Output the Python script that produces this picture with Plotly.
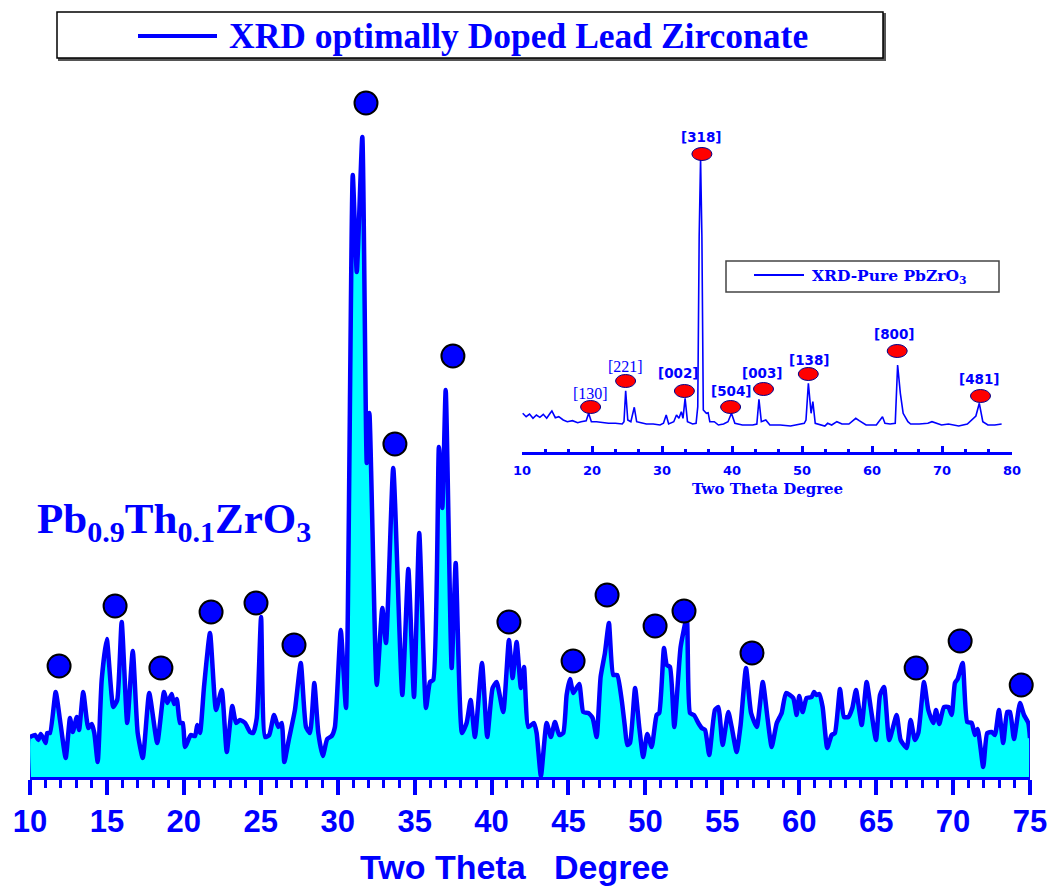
import plotly.graph_objects as go

# ---------------- data ----------------
two_theta = [10.0,10.33,10.54,10.70,10.86,11.02,11.12,11.30,11.67,11.95,
             12.32,12.60,12.78,13.04,13.19,13.46,13.79,14.01,14.18,14.40,
             14.66,14.99,15.41,15.67,15.96,16.32,16.68,17.00,17.33,17.75,
             18.27,18.71,18.92,19.21,19.36,19.54,19.75,19.93,20.08,20.45,
             20.73,20.87,21.05,21.31,21.70,22.09,22.46,22.79,23.15,23.39,
             23.65,23.98,24.30,24.51,24.74,25.02,25.28,25.55,25.86,26.14,
             26.36,26.53,26.82,27.22,27.60,27.94,28.20,28.48,28.74,29.03,
             29.32,29.61,29.82,30.20,30.54,30.98,31.24,31.60,31.89,32.06,
             32.54,32.90,33.14,33.61,34.20,34.59,34.96,35.30,35.74,36.00,
             36.21,36.58,36.80,37.02,37.41,37.67,38.08,38.38,38.64,38.92,
             39.38,39.72,40.07,40.33,40.76,41.13,41.37,41.63,41.91,42.11,
             42.39,42.76,42.93,43.21,43.58,43.86,44.12,44.40,44.66,44.88,
             45.10,45.31,45.70,45.96,46.29,46.57,46.83,47.09,47.37,47.63,
             47.91,48.17,48.46,48.67,48.82,49.00,49.33,49.60,49.86,50.12,
             50.41,50.73,50.90,51.21,51.39,51.60,51.88,52.29,52.69,52.90,
             53.16,53.44,53.66,53.88,54.15,54.52,54.74,55.02,55.39,55.61,
             55.93,56.19,56.54,56.87,57.24,57.63,57.93,58.21,58.54,58.86,
             59.14,59.61,59.83,60.00,60.22,60.48,60.81,60.96,61.13,61.30,
             61.52,61.82,62.11,62.32,62.65,62.91,63.19,63.45,63.69,64.06,
             64.38,64.64,64.99,65.25,65.51,65.85,66.33,66.59,66.98,67.24,
             67.52,67.74,68.11,68.39,68.71,68.89,69.10,69.41,69.69,69.91,
             70.12,70.30,70.62,70.92,71.21,71.42,71.60,71.96,72.22,72.51,
             72.72,72.98,73.26,73.52,73.70,73.96,74.35,74.61,74.89,75.00]

intensity = [40,42,37,43,39,34,44,44,85,57,
             19,59,45,60,47,85,49,53,44,15,
             97,138,70,77,155,54,126,44,19,84,
             34,85,74,83,73,78,54,54,30,42,
             41,52,44,90,144,67,87,25,71,54,
             57,54,45,44,59,160,40,42,62,50,
             54,15,37,67,114,50,44,94,44,21,
             38,41,50,147,69,602,505,640,314,364,
             92,169,134,309,82,208,80,244,69,95,
             97,330,269,387,109,214,44,54,77,40,
             114,40,89,95,65,137,99,135,89,110,
             50,54,44,1,54,40,55,42,44,82,
             98,84,93,65,64,59,40,100,124,154,
             102,102,77,50,32,34,89,50,20,43,
             30,62,64,129,112,110,50,130,159,64,
             62,54,49,47,22,67,70,32,65,50,
             25,52,109,64,50,95,60,30,54,64,
             84,79,62,81,65,79,80,85,82,83,
             70,29,42,44,88,60,60,69,87,52,
             95,70,37,82,90,37,62,37,29,57,
             37,44,95,67,54,67,53,70,70,62,
             94,98,114,55,54,42,48,10,44,45,
             42,67,34,65,65,38,74,62,54,39]

peak_theta = [11.89,15.53,18.51,21.77,24.69,27.16,31.84,33.72,37.49,
              41.13,45.30,47.51,50.63,52.51,56.93,67.60,70.46,74.43]
peak_int = [111,171,109,165,174,132,674,333,421,
            155,116,182,151,166,124,109,136,92]

# inset : pure PbZrO3
pure_theta = [10.1,10.59,11.08,11.57,12.06,12.55,13.04,13.53,14.02,14.27,
              14.76,15.25,15.89,16.47,17.21,17.95,18.44,19.17,19.52,19.91,
              20.64,21.38,22.36,23.34,24.32,24.57,24.81,25.11,25.55,26.04,
              26.38,27.02,27.76,28.74,29.72,30.21,30.60,30.95,31.68,32.07,
              32.42,32.76,33.00,33.30,33.64,34.38,34.87,35.11,35.31,35.51,
              35.70,35.90,36.34,36.59,36.83,37.47,38.06,38.79,39.43,39.92,
              40.41,41.49,42.96,43.55,43.85,44.19,44.83,45.41,46.89,48.36,
              49.58,50.32,50.57,50.91,51.30,51.55,51.89,53.26,53.66,54.24,
              54.98,55.71,56.70,57.68,58.17,59.15,60.62,61.50,61.85,62.59,
              63.32,63.66,64.05,64.45,65.13,65.52,66.75,67.98,68.57,69.94,
              70.92,72.39,73.62,74.45,74.84,75.33,75.83,76.56,77.54,78.52]
pure_int = [38.7,35.3,38,33.7,37,34.7,37.7,33.7,38.7,41,
            34.3,35.3,32,30.3,31.3,29.3,30.3,31.3,38.7,30.3,
            30.3,29.3,28.7,28.7,28,30.3,61.3,32,30.3,44.7,
            30.3,29.3,28,28,27,28.7,37,28,30.3,37,
            33.7,40.3,33.7,53.7,30.3,28,28.7,45.3,215.3,293.7,
            215.3,42,38.7,39.3,30.3,30.3,27,28,30.3,38.7,
            28.7,27,27,28,52.7,30.3,32,27,27,26,
            28,28.7,32,68.7,38.7,50.3,28.7,26,28.7,27,
            30.3,28,28,33.7,31.3,27,27,35.3,28.7,28,
            28.7,87,58.7,38.7,30.3,28,28,28.7,30.3,27,
            28,26,28,33.7,36,48.7,30.3,27,27,28]

hkl_labels = ['[130]','[221]','[002]','[318]','[504]','[003]','[138]','[800]','[481]']
hkl_theta = [19.8,24.8,33.2,35.7,39.8,44.5,50.9,63.6,75.5]
hkl_int = [45,71,61,298,45,63,78,101,56]
hkl_label_theta = [19.8,24.8,32.3,35.7,39.9,44.4,51.1,63.2,75.3]
hkl_label_int = [59,86,79,315,61,79,92,118,73]
hkl_label_serif = [True,True,False,False,False,False,False,False,False]

main_ticks = list(range(10, 80, 5))
inset_ticks = list(range(10, 90, 10))

# ---------------- layout helpers ----------------
W, H = 1048, 889
def px(x):
    return x / W
def py(y):
    return 1 - y / H

BLUE = '#0000FF'
SANS = 'Liberation Sans, Arial, sans-serif'
SERIF = 'Liberation Serif, Times New Roman, serif'

fig = go.Figure()

# filled area (closed polygon down to baseline)
fig.add_trace(go.Scatter(
    x=[two_theta[0]] + two_theta + [two_theta[-1]],
    y=[0] + intensity + [0],
    mode='lines', fill='toself', fillcolor='#00FFFF',
    line=dict(color=BLUE, width=2, shape='spline', smoothing=0.5),
    hoverinfo='skip', showlegend=False, xaxis='x', yaxis='y'))
# main curve
fig.add_trace(go.Scatter(
    x=two_theta, y=intensity, mode='lines',
    line=dict(color=BLUE, width=4.5, shape='spline', smoothing=0.5),
    showlegend=False, xaxis='x', yaxis='y'))
# peak markers
fig.add_trace(go.Scatter(
    x=peak_theta, y=peak_int, mode='markers',
    marker=dict(size=23, color=BLUE, line=dict(color='black', width=2)),
    showlegend=False, cliponaxis=False, xaxis='x', yaxis='y'))

# inset curve
fig.add_trace(go.Scatter(
    x=pure_theta, y=pure_int, mode='lines',
    line=dict(color=BLUE, width=1.6), showlegend=False,
    xaxis='x2', yaxis='y2'))

shapes = []
annotations = []

# title legend box
shapes.append(dict(type='rect', xref='paper', yref='paper',
                   x0=px(59), x1=px(885), y0=py(60), y1=py(14),
                   line=dict(color='#555555', width=2), fillcolor='#555555', layer='above'))
shapes.append(dict(type='rect', xref='paper', yref='paper',
                   x0=px(57), x1=px(883), y0=py(58), y1=py(12),
                   line=dict(color='black', width=1.5), fillcolor='white', layer='above'))
shapes.append(dict(type='line', xref='paper', yref='paper',
                   x0=px(138), x1=px(217), y0=py(36), y1=py(36),
                   line=dict(color=BLUE, width=4), layer='above'))
annotations.append(dict(xref='paper', yref='paper', x=px(227), y=py(36),
                        xanchor='left', yanchor='middle', showarrow=False,
                        text='XRD optimally Doped Lead Zirconate',
                        font=dict(family=SERIF, size=35.5, color=BLUE, weight=700)))

# composition label
annotations.append(dict(xref='paper', yref='paper', x=px(35), y=py(522),
                        xanchor='left', yanchor='middle', showarrow=False,
                        text='Pb<sub>0.9</sub>Th<sub>0.1</sub>ZrO<sub>3</sub>',
                        font=dict(family=SERIF, size=43, color=BLUE, weight=700)))

# main x axis title
annotations.append(dict(xref='paper', yref='paper', x=px(514), y=py(867),
                        xanchor='center', yanchor='middle', showarrow=False,
                        text='Two Theta\u00a0\u00a0\u00a0Degree',
                        font=dict(family=SANS, size=34, color=BLUE, weight=700)))

# inset legend
shapes.append(dict(type='rect', xref='paper', yref='paper',
                   x0=px(726), x1=px(999), y0=py(292), y1=py(261),
                   line=dict(color='#444444', width=1.5), fillcolor='white', layer='below'))
shapes.append(dict(type='line', xref='paper', yref='paper',
                   x0=px(754), x1=px(804), y0=py(275), y1=py(275),
                   line=dict(color=BLUE, width=2), layer='above'))
annotations.append(dict(xref='paper', yref='paper', x=px(810), y=py(276),
                        xanchor='left', yanchor='middle', showarrow=False,
                        text='XRD-Pure PbZrO<sub>3</sub>',
                        font=dict(family='DejaVu Serif', size=15.5, color=BLUE, weight=700)))
# inset axis title
annotations.append(dict(xref='paper', yref='paper', x=px(767), y=py(489),
                        xanchor='center', yanchor='middle', showarrow=False,
                        text='Two Theta Degree',
                        font=dict(family='DejaVu Serif', size=15, color=BLUE, weight=700)))

# inset hkl ellipses and labels
for th, it in zip(hkl_theta, hkl_int):
    shapes.append(dict(type='circle', xref='x2', yref='y2',
                       xsizemode='pixel', ysizemode='pixel',
                       xanchor=th, yanchor=it, x0=-10, x1=10, y0=-6.5, y1=6.5,
                       fillcolor='#FF0000', line=dict(color='#00008B', width=1),
                       layer='above'))
for lab, th, it, serif in zip(hkl_labels, hkl_label_theta, hkl_label_int, hkl_label_serif):
    annotations.append(dict(xref='x2', yref='y2', x=th, y=it, showarrow=False,
                            xanchor='center', yanchor='middle', text=lab,
                            font=dict(family=SERIF if serif else 'DejaVu Sans',
                                      size=16 if serif else 13.5, color=BLUE,
                                      weight=400 if serif else 700)))

fig.update_layout(
    width=W, height=H, autosize=False,
    margin=dict(l=0, r=0, t=0, b=0, autoexpand=False),
    paper_bgcolor='white', plot_bgcolor='rgba(0,0,0,0)',
    showlegend=False,
    xaxis=dict(domain=[px(30), px(1030)], range=[10, 75], anchor='y',
               automargin=False,
               showline=True, linecolor=BLUE, linewidth=3,
               ticks='outside', ticklen=15, tickwidth=4, tickcolor=BLUE,
               tickvals=main_ticks, ticktext=[str(t) for t in main_ticks],
               ticklabelstandoff=0,
               tickfont=dict(family=SANS, size=31, color=BLUE, weight=700),
               minor=dict(dtick=1, tick0=10, ticks='outside', ticklen=8,
                          tickwidth=3, tickcolor=BLUE, showgrid=False),
               showgrid=False, zeroline=False),
    yaxis=dict(domain=[py(777), py(60)], range=[0, 717], anchor='x',
               automargin=False,
               visible=False, showgrid=False, zeroline=False),
    xaxis2=dict(domain=[px(522), px(1012)], range=[10, 80], anchor='y2',
                automargin=False,
                showline=True, linecolor=BLUE, linewidth=3,
                ticks='inside', ticklen=6, tickwidth=3, tickcolor=BLUE,
                tickvals=inset_ticks, ticktext=[str(t) for t in inset_ticks],
                ticklabelstandoff=4,
                tickfont=dict(family='DejaVu Sans', size=13, color=BLUE, weight=700),
                minor=dict(dtick=10/3, tick0=10, ticks='inside', ticklen=3,
                           tickwidth=3, tickcolor=BLUE, showgrid=False),
                showgrid=False, zeroline=False),
    yaxis2=dict(domain=[py(452), py(130)], range=[0, 322], anchor='x2',
                automargin=False,
                visible=False, showgrid=False, zeroline=False),
    shapes=shapes, annotations=annotations)

fig.write_html('out.html')
